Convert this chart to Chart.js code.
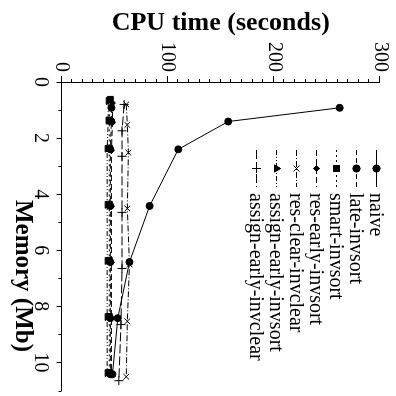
<!DOCTYPE html>
<html>
<head>
<meta charset="utf-8">
<script src="https://cdn.jsdelivr.net/npm/chart.js@4.4.0/dist/chart.umd.min.js"></script>
<style>
html, body { margin: 0; padding: 0; background: #fff; overflow: hidden; }
#wrap { width: 396px; height: 396px; transform: rotate(90deg); transform-origin: 50% 50%; }
</style>
</head>
<body>
<div id="wrap"><canvas id="chart" width="396" height="396"></canvas></div>
<script>
// series names (legend order)
const seriesNames = ['naive', 'late-invsort', 'smart-invsort', 'res-early-invsort',
    'res-clear-invclear', 'assign-early-invsort', 'assign-early-invclear'];

// memory (Mb) / cpu time (s) per series
const memNaive = [0.92, 1.41, 2.40, 4.42, 6.42, 8.42, 10.42];
const cpuNaive = [262, 157, 110, 83, 64, 53, 48];
const memLate = [0.92, 1.41, 2.40, 4.42, 6.42, 8.42, 10.42];
const cpuLate = [47, 47, 46, 46, 46, 46, 46];
const memSmart = [0.62, 1.36, 2.36, 4.36, 6.36, 8.36, 10.36];
const cpuSmart = [46, 45, 45, 45, 45, 45, 45];
const memResEarly = [0.75, 1.45, 2.44, 4.44, 6.44, 8.44, 10.44];
const cpuResEarly = [48, 48, 47, 47, 47, 47, 47];
const memResClear = [0.80, 1.53, 2.52, 4.51, 6.50, 8.53, 10.51];
const cpuResClear = [61, 62, 63, 62, 64, 62, 61];
const memAssignSort = [0.68, 1.38, 2.38, 4.38, 6.38, 8.38, 10.38];
const cpuAssignSort = [44, 44, 43, 43, 43, 43, 43];
const memAssignClear = [0.80, 1.74, 2.65, 4.65, 6.65, 8.65, 10.65];
const cpuAssignClear = [59, 57, 57, 57, 57, 56, 54];

// labelled ticks
const memTicks = [0, 2, 4, 6, 8, 10];
const cpuTicks = [0, 100, 200, 300];

const mems = [memNaive, memLate, memSmart, memResEarly, memResClear, memAssignSort, memAssignClear];
const cpus = [cpuNaive, cpuLate, cpuSmart, cpuResEarly, cpuResClear, cpuAssignSort, cpuAssignClear];

const styles = [
    { pointStyle: 'circle', radius: 3.5, dash: [] },
    { pointStyle: 'circle', radius: 3.5, dash: [5, 3] },
    { pointStyle: 'rect', radius: 4.2, dash: [2, 3] },
    { pointStyle: 'rectRot', radius: 3, dash: [6, 3] },
    { pointStyle: 'crossRot', radius: 4, dash: [6, 2, 1, 2] },
    { pointStyle: 'triangle', radius: 4, dash: [5, 2, 1, 2, 1, 2] },
    { pointStyle: 'cross', radius: 4.5, dash: [9, 3] }
];

const FONT = '"Liberation Serif", "Times New Roman", serif';
Chart.defaults.font.family = FONT;
Chart.defaults.font.size = 20;
Chart.defaults.color = '#000';

const datasets = seriesNames.map((name, i) => ({
    label: name,
    data: mems[i].map((m, j) => ({ x: m, y: cpus[i][j] })),
    showLine: true,
    borderColor: '#000',
    backgroundColor: '#000',
    borderWidth: 1,
    borderDash: styles[i].dash,
    pointStyle: styles[i].pointStyle,
    pointRadius: styles[i].radius,
    pointBorderWidth: 1,
    pointBackgroundColor: '#000',
    pointBorderColor: '#000'
}));

// minor ticks, x title and in-plot key
const extras = {
    id: 'extras',
    afterDraw(chart) {
        const ctx = chart.ctx;
        const xs = chart.scales.x, ys = chart.scales.y;
        ctx.save();
        ctx.strokeStyle = '#000';
        ctx.lineWidth = 1;
        ctx.beginPath();
        xs.ticks.forEach(t => {
            if (memTicks.includes(t.value)) return;
            const px = Math.round(xs.getPixelForValue(t.value)) + 0.5;
            ctx.moveTo(px, xs.top);
            ctx.lineTo(px, xs.top + 3);
        });
        ys.ticks.forEach(t => {
            if (cpuTicks.includes(t.value)) return;
            const py = Math.round(ys.getPixelForValue(t.value)) + 0.5;
            ctx.moveTo(ys.right, py);
            ctx.lineTo(ys.right - 3, py);
        });
        ctx.stroke();

        // x axis title
        ctx.font = 'bold 25px ' + FONT;
        ctx.fillStyle = '#000';
        ctx.textAlign = 'center';
        ctx.textBaseline = 'middle';
        ctx.fillText('Memory (Mb)', 276, 374);

        // key
        ctx.font = '20px ' + FONT;
        ctx.textAlign = 'left';
        chart.data.datasets.forEach((ds, i) => {
            const y = 19.5 + i * 20;
            ctx.save();
            ctx.setLineDash(ds.borderDash);
            ctx.beginPath();
            ctx.moveTo(150, y);
            ctx.lineTo(187, y);
            ctx.stroke();
            ctx.restore();
            if (Chart.helpers && Chart.helpers.drawPoint) {
                Chart.helpers.drawPoint(ctx, {
                    pointStyle: ds.pointStyle, radius: ds.pointRadius,
                    rotation: 0, borderWidth: 1
                }, 168.5, y);
                if (ds.pointStyle !== 'cross' && ds.pointStyle !== 'crossRot') ctx.fill();
                ctx.stroke();
            }
            ctx.fillText(ds.label, 193, y + 1);
        });
        ctx.restore();
    }
};

new Chart(document.getElementById('chart'), {
    type: 'scatter',
    data: { datasets },
    options: {
        responsive: false,
        animation: false,
        layout: { padding: { top: 12, right: 0, bottom: 0, left: 0 } },
        plugins: { legend: { display: false }, tooltip: { enabled: false } },
        scales: {
            x: {
                type: 'linear',
                min: 0, max: 11,
                afterFit: s => { s.height = 61.5; },
                border: { display: true, color: '#000', width: 1 },
                grid: {
                    drawOnChartArea: false, tickLength: 5,
                    tickColor: c => memTicks.includes(c.tick.value) ? '#000' : 'rgba(0,0,0,0)'
                },
                ticks: {
                    stepSize: 1, autoSkip: false, maxRotation: 0, padding: 4,
                    callback: v => memTicks.includes(v) ? String(v) : ''
                }
            },
            y: {
                type: 'linear',
                min: 0, max: 300,
                afterFit: s => { s.width = 82; },
                border: { display: true, color: '#000', width: 1 },
                grid: {
                    drawOnChartArea: false, tickLength: 6,
                    tickColor: c => cpuTicks.includes(c.tick.value) ? '#000' : 'rgba(0,0,0,0)'
                },
                ticks: {
                    stepSize: 10, autoSkip: false, padding: 4,
                    callback: v => cpuTicks.includes(v) ? String(v) : ''
                },
                title: {
                    display: true, text: 'CPU time (seconds)',
                    font: { size: 26, weight: 'bold' }, padding: { top: 8, bottom: 0 }
                }
            }
        }
    },
    plugins: [extras]
});
</script>
</body>
</html>
